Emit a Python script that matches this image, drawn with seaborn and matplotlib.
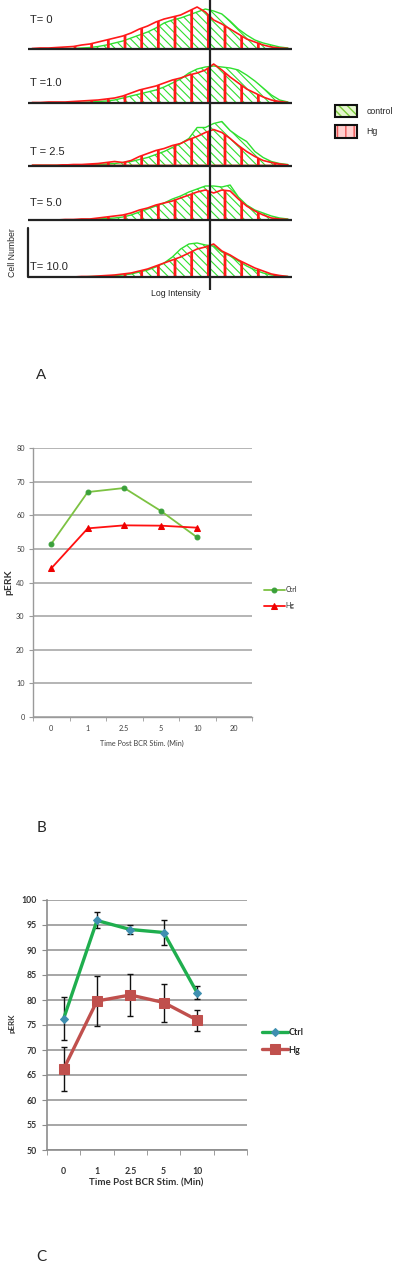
"""
Three-panel figure: flow histograms (A), pERK time course (B), pERK with error bars (C).
Output: out.png
"""

import numpy as np
import matplotlib
matplotlib.use("Agg")
import matplotlib.pyplot as plt
import seaborn as sns
from matplotlib.patches import Patch
from matplotlib.legend_handler import HandlerTuple
from matplotlib.ticker import FixedLocator

W, H = 400, 1269

# ---- panel A: histogram heights per time point (32 log-intensity bins) ----
time_labels = ["T= 0", "T =1.0", "T = 2.5", "T= 5.0", "T= 10.0"]
ctrl_hist = [
    [0, 0, 0, 0, 0.5, 0.5, 1, 1.5, 2.5, 4, 6, 8, 11, 14, 17, 21, 26, 29, 31, 34, 37, 40, 38, 35, 28, 20, 14, 9, 6, 4, 2, 1],
    [0, 0, 0, 0, 0, 0.5, 0.5, 1, 1.5, 2, 3, 5, 7, 9, 11, 13, 16, 20, 24, 30, 34, 36, 37, 36, 35, 33, 28, 22, 15, 8, 3, 1],
    [0, 0, 0, 0, 0, 0, 0.5, 0.5, 1, 1.5, 2, 3, 4, 6, 8, 11, 14, 18, 22, 27, 38, 38, 42, 44, 35, 29, 24, 14, 8, 4, 2, 1],
    [0, 0, 0, 0, 0, 0, 0.5, 0.5, 1, 1.5, 2, 3, 5, 8, 11, 14, 17, 21, 24, 28, 31, 34, 34, 33, 35, 23, 15, 10, 7, 4, 2, 1],
    [0, 0, 0, 0, 0, 0, 0, 0.5, 0.5, 1, 1.5, 2, 3, 5, 7, 10, 14, 20, 28, 33, 34, 32, 31, 25, 21, 16, 11, 7, 4, 2, 1, 0.5],
]
hg_hist = [
    [0.5, 1, 1, 1.5, 2, 2.5, 4, 5, 7, 9, 11, 13, 16, 20, 23, 27, 30, 32, 34, 38, 42, 37, 29, 25, 20, 15, 10, 7, 4, 2, 1, 0.5],
    [0.5, 0.5, 1, 1, 1, 1.5, 2, 2.5, 3, 4, 5, 7, 10, 13, 15, 17, 20, 23, 25, 28, 30, 33, 39, 33, 26, 20, 14, 10, 6, 3, 1.5, 0.5],
    [0, 0, 0, 0, 0.5, 1, 1, 1.5, 2, 3, 4, 3, 5, 9, 12, 15, 17, 20, 22, 26, 29, 33, 36, 33, 27, 20, 14, 9, 5, 3, 1.5, 0.5],
    [0, 0, 0, 0, 0.5, 0.5, 1, 1, 2, 3, 4, 5, 7, 10, 12, 15, 17, 19, 22, 25, 28, 30, 27, 30, 29, 21, 14, 9, 5, 2, 1, 0.5],
    [0, 0, 0, 0, 0, 0, 0.5, 0.5, 1, 1.5, 2, 3, 4, 6, 8, 11, 14, 17, 20, 24, 28, 30, 33, 26, 22, 17, 13, 9, 6, 3, 1.5, 0.5],
]
gate_bin = 22.06

# ---- panel B ----
times_b = ["0", "1", "2.5", "5", "10", "20"]
ctrl_b = [51.5, 66.9, 68.1, 61.3, 53.4]
hg_b = [44.2, 56.1, 57.0, 56.9, 56.3]

# ---- panel C ----
times_c = ["0", "1", "2.5", "5", "10", ""]
ctrl_c = [76.3, 95.9, 94.1, 93.5, 81.5]
ctrl_c_err = [4.3, 1.6, 0.9, 2.4, 1.35]
hg_c = [66.2, 79.8, 81.0, 79.5, 76.0]
hg_c_err = [4.4, 5.0, 4.2, 3.8, 2.1]

sns.set_style("white")
plt.rcParams["font.family"] = ["Liberation Sans", "DejaVu Sans"]

fig = plt.figure(figsize=(W / 100, H / 100), dpi=100)


def px_axes(left, top, right, bottom):
    return fig.add_axes([left / W, 1 - bottom / H, (right - left) / W, (bottom - top) / H])


def ftext(x, y, s, **kw):
    fig.text(x / W, 1 - y / H, s, **kw)


def hatch_lw(artist, lw):
    if hasattr(artist, "set_hatch_linewidth"):
        artist.set_hatch_linewidth(lw)


# ================= Panel A =================
axA = px_axes(28, 0, 292, 290)
nbins = len(ctrl_hist[0])
centers = np.arange(nbins) + 0.5
baselines = [49, 103, 165.5, 220, 277]
label_y = [20, 83, 152, 203, 267]
GREEN = "#2fe02f"
RED = "#ff1a1a"
for k, b in enumerate(baselines):
    g = np.asarray(ctrl_hist[k], dtype=float)
    r = np.asarray(hg_hist[k], dtype=float)
    sg = axA.fill_between(centers, -b, g - b, facecolor="none", edgecolor=GREEN,
                          hatch="\\\\\\\\", lw=1.0)
    hatch_lw(sg, 0.8)
    sr = axA.fill_between(centers, -b, r - b, facecolor="none", edgecolor=RED,
                          hatch="|", lw=1.2)
    hatch_lw(sr, 2.0)
    axA.axhline(-b, color="#222222", lw=1.6, zorder=5)
    axA.text(2 / 8.25, -label_y[k], time_labels[k], fontsize=8, va="center", ha="left")
axA.axvline(gate_bin, color="#222222", lw=1.6, zorder=6)
axA.plot([0, 0], [-277, -228], color="#222222", lw=1.6, clip_on=False)
axA.set_xlim(0, nbins)
axA.set_ylim(-290, 0)
axA.axis("off")

ftext(13, 253, "Cell Number", rotation=90, fontsize=6.3, ha="center", va="center")
ftext(176, 293, "Log Intensity", fontsize=6.3, ha="center", va="center")
ftext(41, 375, "A", fontsize=11, ha="center", va="center")

ctrl_handle = (Patch(facecolor="#e4f5cf", edgecolor="none"),
               Patch(facecolor="none", edgecolor="#7acb3a", hatch="\\\\\\\\", lw=0),
               Patch(facecolor="none", edgecolor="#111111", lw=1.5))
hg_handle = (Patch(facecolor="#ffd0d0", edgecolor="none"),
             Patch(facecolor="none", edgecolor="#ee5555", hatch="||", lw=0),
             Patch(facecolor="none", edgecolor="#111111", lw=1.5))
fig.legend([ctrl_handle, hg_handle], ["control", "Hg"], loc="upper left",
           bbox_to_anchor=(335 / W, 1 - 105 / H), frameon=False, fontsize=6.3,
           handlelength=2.5, handleheight=1.8, handletextpad=1.1, labelspacing=0.9,
           borderpad=0, borderaxespad=0, handler_map={tuple: HandlerTuple(ndivide=1)})

# ================= Panel B =================
plt.rcParams["font.family"] = ["Lato", "DejaVu Sans"]
axB = px_axes(33, 448, 252, 717)
pos_b = np.arange(len(ctrl_b))
sns.lineplot(x=pos_b, y=ctrl_b, ax=axB, color="#7cc242", lw=1.3, marker="o",
             markersize=3.5, markeredgecolor="#3aa03a", markerfacecolor="#3aa03a", label="Ctrl")
sns.lineplot(x=pos_b, y=hg_b, ax=axB, color="#ff1010", lw=1.3, marker="^",
             markersize=4, markeredgecolor="#ee0000", markerfacecolor="#ee0000", label="Hg")
axB.set_xlim(-0.5, len(times_b) - 0.5)
axB.set_ylim(0, 80)
axB.set_yticks(np.arange(0, 81, 10))
axB.set_xticks(np.arange(len(times_b)))
axB.set_xticklabels(times_b)
axB.xaxis.set_minor_locator(FixedLocator(np.arange(len(times_b) + 1) - 0.5))
axB.yaxis.grid(True, color="#a8a8a8", lw=1.2)
axB.set_axisbelow(True)
for s in ["top", "right"]:
    axB.spines[s].set_visible(False)
for s in ["left", "bottom"]:
    axB.spines[s].set_color("#9a9a9a")
    axB.spines[s].set_linewidth(1.0)
axB.tick_params(axis="y", which="major", length=3, color="#9a9a9a", labelsize=5.3,
                labelcolor="#404040", pad=3, left=True)
axB.tick_params(axis="x", which="major", length=0, labelsize=5.3, labelcolor="#404040", pad=6)
axB.tick_params(axis="x", which="minor", length=3, color="#9a9a9a", bottom=True)
axB.set_xlabel("")
axB.set_ylabel("")
ftext(9, 582, "pERK", rotation=90, fontsize=7.5, fontweight="bold", color="#333333",
      ha="center", va="center")
ftext(142, 743, "Time Post BCR Stim. (Min)", fontsize=5.2, color="#404040",
      ha="center", va="center")
hB, lB = axB.get_legend_handles_labels()
axB.legend(hB, lB, loc="upper left", bbox_to_anchor=(264 / W, 1 - 586 / H),
           bbox_transform=fig.transFigure, frameon=False, fontsize=5,
           handlelength=3.0, handletextpad=0.1, labelspacing=1.3, borderpad=0, borderaxespad=0)
ftext(41, 828, "B", fontsize=11, ha="center", va="center")

# ================= Panel C =================
axC = px_axes(47, 900, 247, 1150)
pos_c = np.arange(len(ctrl_c))
axC.errorbar(pos_c, ctrl_c, yerr=ctrl_c_err, fmt="none", ecolor="#111111",
             elinewidth=1.0, capsize=2.5, capthick=1.0, zorder=3)
axC.errorbar(pos_c, hg_c, yerr=hg_c_err, fmt="none", ecolor="#111111",
             elinewidth=1.0, capsize=2.5, capthick=1.0, zorder=3)
sns.lineplot(x=pos_c, y=ctrl_c, ax=axC, color="#1fae4e", lw=2.4, marker="D",
             markersize=4.5, markeredgecolor="#3f8fb0", markerfacecolor="#3f8fb0",
             label="Ctrl", zorder=4)
sns.lineplot(x=pos_c, y=hg_c, ax=axC, color="#c0504d", lw=2.4, marker="s",
             markersize=7, markeredgecolor="#c0504d", markerfacecolor="#c0504d",
             label="Hg", zorder=4)
axC.set_xlim(-0.5, len(times_c) - 0.5)
axC.set_ylim(50, 100)
axC.set_yticks(np.arange(50, 101, 5))
axC.set_xticks(np.arange(len(times_c)))
axC.set_xticklabels(times_c)
axC.xaxis.set_minor_locator(FixedLocator(np.arange(len(times_c) + 1) - 0.5))
axC.yaxis.grid(True, color="#a6a6a6", lw=1.4)
axC.set_axisbelow(True)
for s in ["top", "right"]:
    axC.spines[s].set_visible(False)
for s in ["left", "bottom"]:
    axC.spines[s].set_color("#8c8c8c")
    axC.spines[s].set_linewidth(1.2)
axC.tick_params(axis="y", which="major", length=3.5, color="#8c8c8c", labelsize=6.3,
                labelcolor="#333333", pad=4, left=True)
axC.tick_params(axis="x", which="major", length=0, labelsize=6.3, labelcolor="#333333", pad=12)
axC.tick_params(axis="x", which="minor", length=3.5, color="#8c8c8c", bottom=True)
for t in axC.get_xticklabels() + axC.get_yticklabels():
    t.set_fontweight("bold")
axC.set_xlabel("")
axC.set_ylabel("")
ftext(12, 1023, "pERK", rotation=90, fontsize=5.8, fontweight="bold", color="#333333",
      ha="center", va="center")
ftext(146, 1183, "Time Post BCR Stim. (Min)", fontsize=7, fontweight="bold", color="#333333",
      ha="center", va="center")
hC, lC = axC.get_legend_handles_labels()
axC.legend(hC, lC, loc="upper left", bbox_to_anchor=(262 / W, 1 - 1028 / H),
           bbox_transform=fig.transFigure, frameon=False,
           prop={"weight": "bold", "size": 6.5},
           handlelength=2.9, handletextpad=0.05, labelspacing=0.95, borderpad=0, borderaxespad=0)
ftext(41, 1257, "C", fontsize=11, ha="center", va="center")

fig.savefig("out.png", dpi=100)
